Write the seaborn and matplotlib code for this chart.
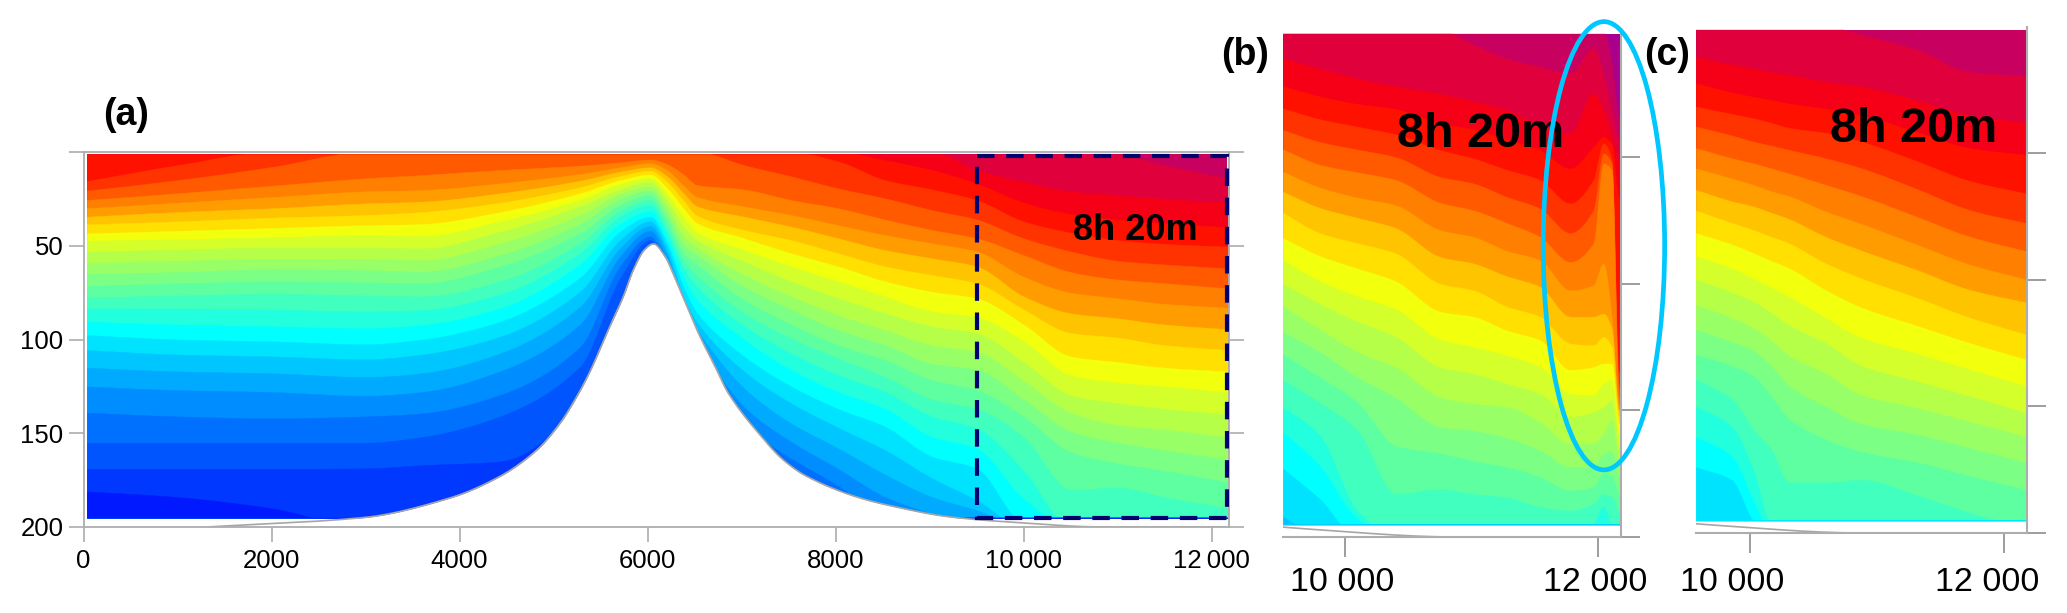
import numpy as np
import matplotlib
matplotlib.use('Agg')
import matplotlib.pyplot as plt
from matplotlib.patches import Ellipse, Rectangle
from matplotlib.transforms import ScaledTranslation
import seaborn as sns

W, H = 2067, 613

# seamount profile (m)
sea_x = [1314, 2975, 3900, 4430, 4821, 5069, 5247, 5389, 5581, 5743, 5848, 5970, 6062, 6187, 6293, 6435, 6559, 6719, 6860, 7215, 7445, 7694, 8226, 8615, 9200, 9750, 10878, 12186]
sea_d = [200, 195, 184.5, 173, 159, 144.7, 130.5, 117, 95, 77, 63, 52, 49, 55.8, 67.4, 84.3, 98.5, 114.5, 128.7, 152, 164.3, 173, 184, 189, 194.5, 197, 200, 200]

# band colours, surface to deep
band_colors = ['#C8005F', '#E0003C', '#F50016', '#FF1100', '#FF3300', '#FF5A00', '#FF7F00', '#FF9C00', '#FFC400',
               '#FFE000', '#F2FF0D', '#D4FF2B', '#B5FF49', '#99FF66', '#7BFF84', '#5EFFA1', '#40FFBF', '#21FFDE',
               '#00FFFF', '#00E3FF', '#00C6FF', '#00AAFF', '#008DFF', '#0071FF', '#0055FF', '#0038FF', '#0019FF']
purple = '#A8008C'

# panel (a) isoline depths
a_x = [35, 1000, 2000, 3000, 3600, 4430, 5282, 5707, 6027, 6204, 6382, 6527, 7027, 7527, 8027, 8527, 9027, 9500, 10000, 10500, 11000, 11500, 12170]
a0 = [0, 0, 0, 0, 0, 0, 0, 0, 0, 0, 0, 0, 0, 0, 0, 0, 0, 0, 0, 0, 1, 7, 14]
a1 = [0, 0, 0, 0, 0, 0, 0, 0, 0, 0, 0, 0, 0, 0, 0, 0, 0, 9.6, 15.8, 21, 23, 25, 27]
a2 = [0, 0, 0, 0, 0, 0, 0, 0, 0, 0, 0, 0, 0, 0, 0, 4.3, 9.6, 16.7, 27, 33, 36, 38, 40]
a3 = [15.5, 7, 0, 0, 0, 0, 0, 0, 0, 0, 0, 0, 0, 0, 5, 15, 20, 25.6, 37, 43, 47, 49, 50.5]
a4 = [20.6, 15, 8, 0, 0, 0, 0, 0, 0, 0, 0, 0, 7, 13, 19.4, 24.7, 31, 36, 46, 53, 58, 60, 62]
a5 = [25.6, 22, 18, 14, 12.3, 9.6, 7.3, 5.5, 4, 6.4, 12, 17.6, 20, 25.6, 30, 36, 41.6, 46, 55, 64, 68, 70, 72.7]
a6 = [30, 27, 24, 21, 20.3, 16.7, 11.7, 8.2, 6, 9.6, 18, 24, 29, 33.6, 39, 44.3, 48.7, 53, 66.5, 75, 78, 81, 83]
a7 = [34.5, 32, 30, 27.4, 26.5, 22, 15.3, 10.5, 8.2, 12.8, 22, 29, 34.5, 39.8, 46, 52.3, 56.7, 61, 77, 86, 88.7, 92, 94.5]
a8 = [38.6, 37, 35, 33.6, 32, 27, 18.8, 12.8, 10, 15.8, 26, 34, 41.6, 47, 54, 61, 65.6, 70, 84, 96.5, 99, 103, 105.6]
a9 = [43.4, 42, 40.5, 39, 38.4, 32, 22, 15, 12, 19, 30, 38, 46, 54, 61, 69, 74.5, 78, 92, 109, 112, 115, 117]
a10 = [47.3, 46.5, 45.5, 44.3, 44.8, 37, 25.6, 17.2, 14, 22.4, 35, 43, 52.3, 61, 69, 77, 85, 88, 101, 119, 123, 125, 128]
a11 = [53.2, 52, 51, 51, 51.4, 42.5, 29, 20, 16, 25.6, 40, 47, 58.5, 69, 78, 86, 93, 96.7, 112, 129.7, 134, 137, 140]
a12 = [59, 58, 57, 57, 57.6, 48.7, 33.6, 22.4, 18.5, 29, 45, 51, 65.6, 77, 87, 95, 103, 106.5, 122, 139, 145.6, 148, 152]
a13 = [65, 64, 62.5, 63, 63.8, 55, 38.4, 25.2, 20.6, 32.7, 49.5, 55, 72, 84, 95, 103, 113, 116, 132, 149, 155, 159, 164]
a14 = [71.5, 70, 69, 69.5, 70, 61, 43.4, 28.3, 23, 36, 54, 60, 79, 92, 103, 111, 121.6, 127, 141, 160, 166, 170, 176]
a15 = [77.5, 76.5, 75.5, 76.5, 77, 69, 48.7, 31.3, 25.6, 39, 58, 66, 86, 99.4, 110, 120, 132, 137, 152, 180, 179, 184, 190]
a16 = [83.4, 83.5, 84, 85, 84.3, 76, 54, 34.5, 28.3, 42.5, 62, 72, 93, 107.4, 119, 128, 141, 147.4, 170, 200, 200, 200, 200]
a17 = [90.5, 92, 93, 94, 92.3, 83.4, 60, 38.4, 31.8, 45.5, 67, 79, 100, 116.3, 128, 137, 152, 158, 185, 200, 200, 200, 200]
a18 = [97.6, 100, 101, 102.5, 100, 90.5, 67, 42.5, 34.5, 48.4, 72, 86, 109, 125, 137, 146.5, 162.5, 168.7, 198, 200, 200, 200, 200]
a19 = [105.6, 108, 109, 110.5, 108, 98.5, 74.5, 47, 37, 51.4, 77, 91, 117, 134, 147, 159, 174, 185.6, 200, 200, 200, 200, 200]
a20 = [115, 117, 118, 120, 118, 107.4, 82.5, 51.4, 39.5, 54, 82, 95, 126, 144.7, 158, 172, 184, 191, 200, 200, 200, 200, 200]
a21 = [125, 127, 128, 130, 128, 117, 92, 55.8, 42, 57.6, 86, 100, 136, 154.5, 169, 184, 193, 200, 200, 200, 200, 200, 200]
a22 = [139, 141, 142, 141, 139.4, 129.6, 104, 61, 45, 61, 92, 110, 145.6, 163.4, 178, 195, 200, 200, 200, 200, 200, 200, 200]
a23 = [155, 155, 155, 155, 152, 141, 114.5, 67.4, 47, 65, 100, 120, 160, 180, 200, 200, 200, 200, 200, 200, 200, 200, 200]
a24 = [169, 169, 169, 168.7, 167, 165, 135, 80, 52, 72, 110, 130, 175, 200, 200, 200, 200, 200, 200, 200, 200, 200, 200]
a25 = [181, 184, 190, 200, 200, 200, 160, 90, 60, 80, 120, 140, 190, 200, 200, 200, 200, 200, 200, 200, 200, 200, 200]
a_lines = [a0, a1, a2, a3, a4, a5, a6, a7, a8, a9, a10, a11, a12, a13, a14, a15, a16, a17, a18, a19, a20, a21, a22, a23, a24, a25]

# panel (b) isoline depths
b_x = [9510, 9800, 10100, 10400, 10751, 11015, 11278, 11541, 11779, 11963, 12042, 12108, 12165, 12182]
b_top = [0, 0, 0, 0, 0, 0, 0, 0, 0, 0, 0, 13, 34, 34]
b0 = [0, 0, 0, 0, 0, 5.7, 11, 14.3, 17, 7, 17, 32.7, 43, 43]
b1 = [11, 15, 19, 22, 25, 28, 31.4, 37.3, 40.6, 24.8, 31.4, 42, 51, 51]
b2 = [22, 26, 29, 31, 36.7, 39, 43, 47.2, 54.5, 46, 42, 45, 66, 66]
b3 = [30.8, 35, 38, 41, 47.2, 50.5, 55, 59, 68.3, 59, 44.6, 51, 135, 135]
b4 = [39.3, 44, 47, 50, 57.8, 60.4, 65.7, 70.3, 80, 71, 48.5, 52.5, 141, 141]
b5 = [47, 53, 56, 59, 68, 71, 76, 81.5, 91.4, 84, 52.5, 55, 145, 145]
b6 = [55.8, 62, 66, 69, 78.8, 81.5, 87, 90.7, 102.6, 100.6, 92, 113, 148, 148]
b7 = [63.7, 70, 74, 78, 89.4, 92, 97, 101.2, 113, 113, 111.8, 118, 150, 150]
b8 = [72, 80, 84, 88, 100, 102.6, 109, 113, 123.6, 124.3, 121, 125, 152, 152]
b9 = [82, 89, 94, 99, 111, 113, 118.4, 122.3, 134, 132.9, 131.5, 131.5, 155, 155]
b10 = [90.7, 99, 105, 110, 122, 125, 128.3, 132.9, 143.4, 144, 139.5, 138, 160, 160]
b11 = [100, 108, 115, 121, 133, 135.5, 139.5, 143.4, 152.6, 150.7, 148.7, 146, 165, 165]
b12 = [109, 118, 127, 133, 144.7, 147.4, 148.7, 154.6, 163.2, 163, 159, 154, 170, 170]
b13 = [119, 127, 137, 145, 156.6, 158, 161, 165.8, 172.4, 172.4, 167, 166, 176, 176]
b14 = [128, 137, 147, 164, 167, 170, 172.4, 176.3, 181.6, 180.3, 175, 176, 183, 183]
b15 = [138, 147, 158, 183, 181, 183, 184.3, 188.2, 189.5, 187, 183, 184, 190, 190]
b16 = [148.7, 160, 190, 200, 200, 200, 200, 200, 200, 195, 188, 195, 195, 200]
b17 = [158.6, 172, 193, 200, 200, 200, 200, 200, 200, 200, 200, 200, 200, 200]
b18 = [173, 185, 200, 200, 200, 200, 200, 200, 200, 200, 200, 200, 200, 200]
b19 = [192, 200, 200, 200, 200, 200, 200, 200, 200, 200, 200, 200, 200, 200]
b_lines = [b_top, b0, b1, b2, b3, b4, b5, b6, b7, b8, b9, b10, b11, b12, b13, b14, b15, b16, b17, b18, b19]

# panel (c) isoline depths
c_x = [9576, 9855, 10024, 10165, 10306, 10593, 10878, 11304, 11729, 12177]
c0 = [0, 0, 0, 0, 0, 0, 3.3, 9, 18, 19.5]
c1 = [12, 15, 16.5, 18, 19, 21.8, 23.7, 29, 35, 38]
c2 = [22.4, 26, 27.7, 29, 30.4, 32.4, 35, 41.5, 48, 50.7]
c3 = [31.6, 34.5, 36.2, 38, 40, 42, 45.5, 53, 61, 66]
c4 = [39.5, 43, 45.4, 47, 48.7, 52, 56, 64, 72.5, 77.7]
c5 = [48, 52, 54, 56, 58, 62.5, 67, 75, 83, 88.8]
c6 = [56, 60, 62.5, 65, 67, 73, 78, 86, 94, 100]
c7 = [64.5, 69, 71, 73.5, 76, 83, 88.5, 96, 104, 109]
c8 = [72.7, 77.5, 80.3, 83, 85.6, 93.5, 99.5, 107, 115, 121.7]
c9 = [81.5, 86, 89.4, 92.5, 95.4, 104, 111, 118, 125, 131.6]
c10 = [90.8, 95.5, 99.4, 103, 106.6, 115, 123, 129, 135.5, 142]
c11 = [100, 105, 108.6, 113, 118, 125, 134, 140, 146, 152.7]
c12 = [110, 115, 119, 124, 130, 137, 145.5, 150.5, 156, 162]
c13 = [119.7, 124.5, 128, 134, 142, 150, 157, 161, 166.5, 172.3]
c14 = [129.6, 134, 138, 146, 155, 163, 168, 172, 177.5, 183]
c15 = [139.4, 147, 159, 167, 180, 180, 179, 185, 192, 198]
c16 = [150, 158, 175, 197, 200, 200, 200, 200, 200, 200]
c17 = [162, 169.7, 187, 200, 200, 200, 200, 200, 200, 200]
c18 = [174, 179, 195, 200, 200, 200, 200, 200, 200, 200]
c_lines = [c0, c1, c2, c3, c4, c5, c6, c7, c8, c9, c10, c11, c12, c13, c14, c15, c16, c17, c18]

depth_ticks = [50, 100, 150, 200]
a_xticks = [0, 2000, 4000, 6000, 8000, 10000, 12000]
a_xlabels = ['0', '2000', '4000', '6000', '8000', '10\u2009000', '12\u2009000']
zoom_xticks = [10000, 12000]
zoom_xlabels = ['10 000', '12 000']

sns.set_style('white')
plt.rcParams['font.family'] = ['Liberation Sans', 'DejaVu Sans']
plt.rcParams['text.color'] = 'black'
plt.rcParams['xtick.color'] = 'black'
plt.rcParams['ytick.color'] = 'black'

GREY = '#ADADAD'
DATA_TOP, DATA_BOTTOM = 1.2, 195


def px_axes(fig, left, right, top, bottom):
    return fig.add_axes([left / W, 1 - bottom / H, (right - left) / W, (bottom - top) / H])


def curve(x, y, n=14):
    # monotone cubic through the read values, so contours stay smooth
    x = np.asarray(x, float)
    y = np.asarray(y, float)
    h = np.diff(x)
    m = np.diff(y) / h
    t = np.zeros_like(y)
    t[0], t[-1] = m[0], m[-1]
    same = m[:-1] * m[1:] > 0
    t[1:-1][same] = 2 * m[:-1][same] * m[1:][same] / (m[:-1][same] + m[1:][same])
    xs, ys = [], []
    for i in range(len(h)):
        s = np.linspace(0, 1, n, endpoint=False)
        xs.append(x[i] + s * h[i])
        ys.append((2 * s**3 - 3 * s**2 + 1) * y[i] + (s**3 - 2 * s**2 + s) * h[i] * t[i]
                  + (-2 * s**3 + 3 * s**2) * y[i + 1] + (s**3 - s**2) * h[i] * t[i + 1])
    return np.append(np.concatenate(xs), x[-1]), np.append(np.concatenate(ys), y[-1])


def draw_bands(ax, x, lines, colors):
    ax.fill_between([x[0], x[-1]], DATA_TOP, DATA_BOTTOM, color=colors[0], lw=0)
    for line, col in zip(lines, colors[1:]):
        xs, ys = curve(x, line)
        ax.fill_between(xs, np.clip(ys, DATA_TOP, DATA_BOTTOM), DATA_BOTTOM, color=col, lw=0.3, edgecolor=col)
    # seamount hides whatever is below the bed
    xs, ys = curve(sea_x, sea_d)
    ax.fill_between(xs, ys, 200, color='white', lw=0)
    sns.lineplot(x=xs, y=ys, ax=ax, color='#A6A6A6', lw=1.2, estimator=None, sort=False, legend=False)
    ax.set_xlabel('')
    ax.set_ylabel('')


fig = plt.figure(figsize=(W / 100, H / 100), dpi=100)

# (a) whole section
ax_a = px_axes(fig, 83.5, 1229, 152, 527)
draw_bands(ax_a, a_x, a_lines, band_colors)
ax_a.set_xlim(0, 12186)
ax_a.set_ylim(200, 0)
ax_a.set_xticks(a_xticks)
ax_a.set_xticklabels(a_xlabels, fontsize=18.5)
ax_a.set_yticks([0] + depth_ticks)
ax_a.set_yticklabels([''] + [str(v) for v in depth_ticks], fontsize=18.5)
ax_a.tick_params(axis='both', length=10.5, width=1.2, color=GREY, right=True, left=True, bottom=True)
ax_a.tick_params(axis='x', pad=5)
ax_a.tick_params(axis='y', pad=4)
for s in ax_a.spines.values():
    s.set_color(GREY)
    s.set_linewidth(1.3)
ax_a.add_patch(Rectangle((9505, 2), 12170 - 9505, 193, fill=False, ec='#00006E', lw=3, ls=(0, (4.2, 2.8)), zorder=5))
ax_a.text(11191, 41.6, '8h 20m', fontsize=26, fontweight='bold', ha='center', va='center', zorder=6)

# (b) close-up with wall layer
ax_b = px_axes(fig, 1283, 1621, 30.5, 537)
draw_bands(ax_b, b_x, b_lines, [purple] + band_colors)
ax_b.set_xlim(9510, 12182)

# (c) close-up, no wall layer
ax_c = px_axes(fig, 1696, 2027, 26.5, 533)
draw_bands(ax_c, c_x, c_lines, band_colors)
ax_c.set_xlim(9576, 12177)

for ax, pad, shift in [(ax_b, 7, -3), (ax_c, 10, -17.5)]:
    ax.set_ylim(200, 0)
    ax.set_xticks(zoom_xticks)
    ax.set_xticklabels(zoom_xlabels, fontsize=24.5)
    ax.set_yticks(depth_ticks)
    ax.set_yticklabels([])
    ax.yaxis.tick_right()
    ax.tick_params(axis='x', length=14.5, width=1.2, color='#8C8C8C', pad=pad, bottom=True)
    ax.tick_params(axis='y', length=14, width=1.2, color='#8C8C8C', right=True, left=False)
    for lab in ax.get_xticklabels():
        lab.set_transform(lab.get_transform() + ScaledTranslation(shift / 100, 0, fig.dpi_scale_trans))
    for name, s in ax.spines.items():
        s.set_color(GREY)
        s.set_linewidth(1.5)
        s.set_visible(name in ('right', 'bottom'))

ax_b.text(11075, 41, '8h 20m', fontsize=35, fontweight='bold', ha='center', va='center', zorder=6)
ax_c.text(11289, 40.8, '8h 20m', fontsize=35, fontweight='bold', ha='center', va='center', zorder=6)
ax_b.add_patch(Ellipse((12047, 85), 960, 177, fill=False, ec='#00C8FF', lw=3.4, clip_on=False, zorder=7))

for label, px, py in [('(a)', 126, 115.5), ('(b)', 1245, 55), ('(c)', 1667, 55)]:
    fig.text(px / W, 1 - py / H, label, fontsize=27, fontweight='bold', ha='center', va='center')

fig.savefig('out.png', dpi=100)
